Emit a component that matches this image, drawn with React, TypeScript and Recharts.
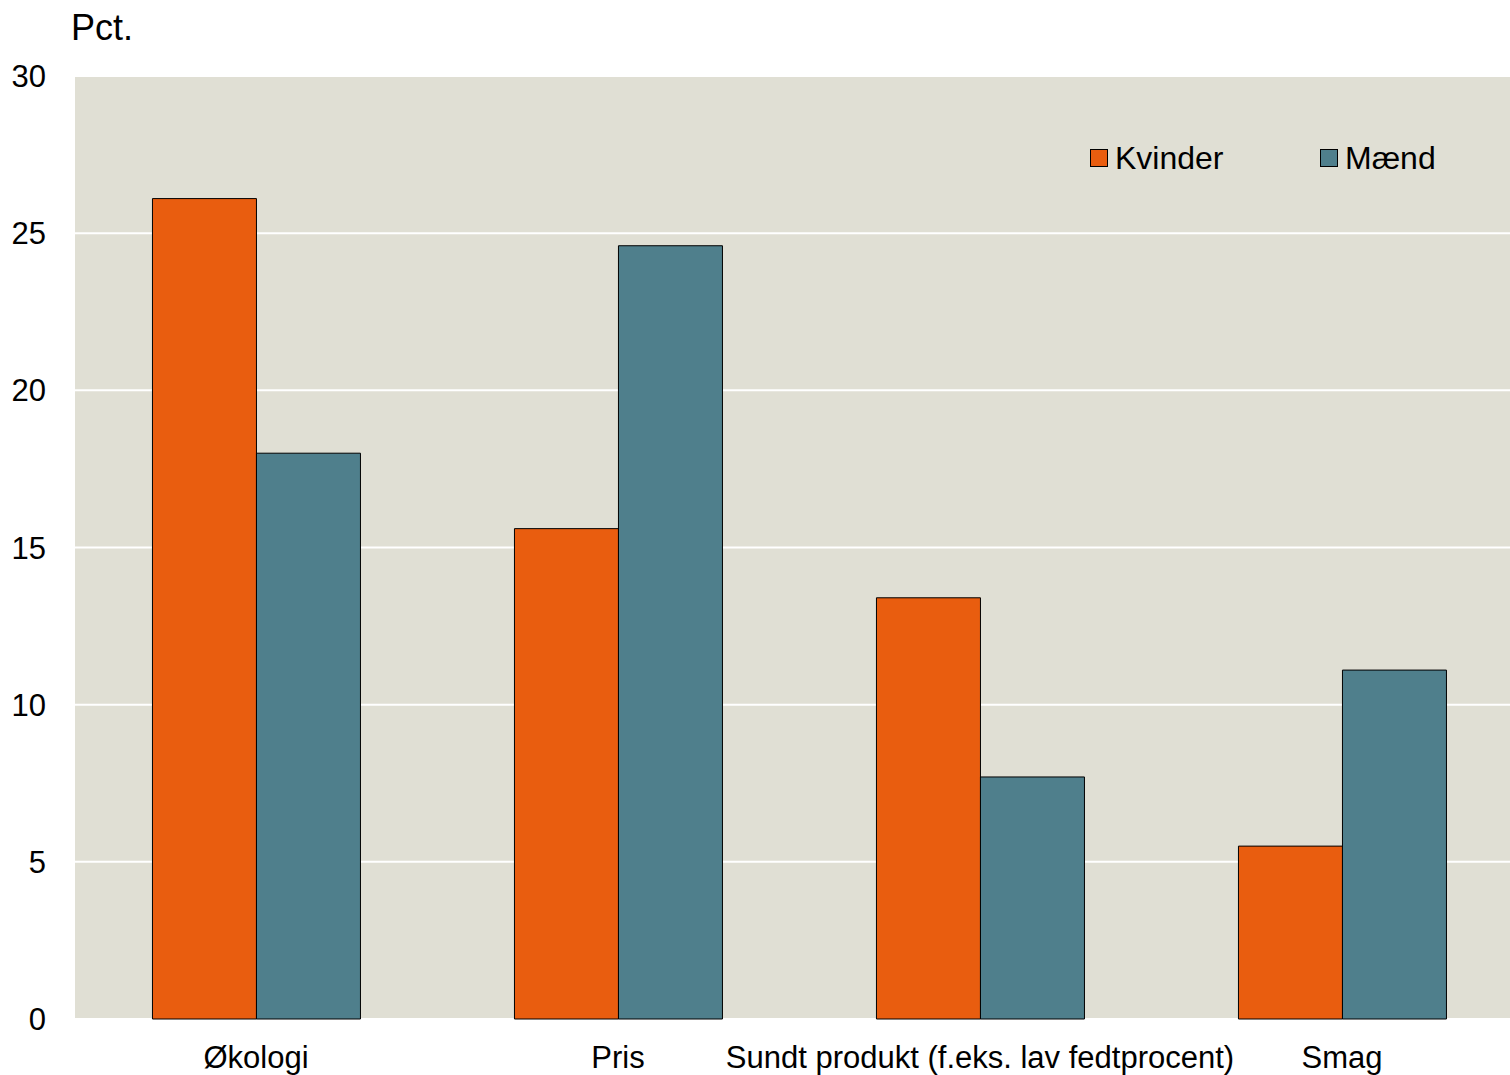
import React from 'react';
import { BarChart, Bar, XAxis, YAxis, CartesianGrid, Legend } from 'recharts';

const categories = ['Økologi', 'Pris', 'Sundt produkt (f.eks. lav fedtprocent)', 'Smag'];
const kvinder = [26.1, 15.6, 13.4, 5.5];
const maend = [18.0, 24.6, 7.7, 11.1];
const yTicks = [0, 5, 10, 15, 20, 25, 30];

const ORANGE = '#E95D0F';
const TEAL = '#4F7F8C';
const FONT = '"Liberation Sans", Arial, sans-serif';

const chartData = categories.map((name, i) => ({
  name,
  Kvinder: kvinder[i],
  Mænd: maend[i],
}));

const LegendBox = () => (
  <div style={{ display: 'flex', fontFamily: FONT, fontSize: 32, color: '#000', lineHeight: '36px' }}>
    {[
      { label: 'Kvinder', color: ORANGE, width: 230 },
      { label: 'Mænd', color: TEAL, width: 150 },
    ].map((item) => (
      <div key={item.label} style={{ display: 'flex', alignItems: 'center', width: item.width }}>
        <span
          style={{
            display: 'inline-block',
            width: 16,
            height: 16,
            background: item.color,
            border: '1px solid #000',
            marginRight: 7,
          }}
        />
        <span>{item.label}</span>
      </div>
    ))}
  </div>
);

const App: React.FC = () => {
  return (
    <div
      style={{
        position: 'absolute',
        left: 0,
        top: 0,
        width: 1510,
        height: 1075,
        overflow: 'hidden',
        background: '#fff',
      }}
    >
      <div
        style={{
          position: 'absolute',
          left: 71,
          top: 7,
          fontFamily: FONT,
          fontSize: 36,
          lineHeight: 'normal',
          color: '#000',
        }}
      >
        Pct.
      </div>
      <BarChart
        width={1523}
        height={1075}
        data={chartData}
        margin={{ top: 76, right: 0, left: 0, bottom: 0 }}
        barCategoryGap="21.4%"
        barGap={0}
      >
        <CartesianGrid vertical={false} stroke="#ffffff" strokeWidth={2} fill="#E0DFD4" />
        <XAxis
          dataKey="name"
          height={56}
          axisLine={false}
          tickLine={false}
          tickSize={0}
          tickMargin={27}
          interval={0}
          tick={{ fill: '#000', fontSize: 31, fontFamily: FONT }}
        />
        <YAxis
          width={75}
          domain={[0, 30]}
          ticks={yTicks}
          axisLine={false}
          tickLine={false}
          tickSize={0}
          tickMargin={29}
          tick={{ fill: '#000', fontSize: 31, fontFamily: FONT }}
        />
        <Legend
          verticalAlign="middle"
          align="center"
          layout="horizontal"
          wrapperStyle={{ position: 'absolute', top: 140, left: 1090, width: 400 }}
          content={<LegendBox />}
        />
        <Bar dataKey="Kvinder" fill={ORANGE} stroke="#000" strokeWidth={1} isAnimationActive={false} />
        <Bar dataKey="Mænd" fill={TEAL} stroke="#000" strokeWidth={1} isAnimationActive={false} />
      </BarChart>
    </div>
  );
};

export default App;
